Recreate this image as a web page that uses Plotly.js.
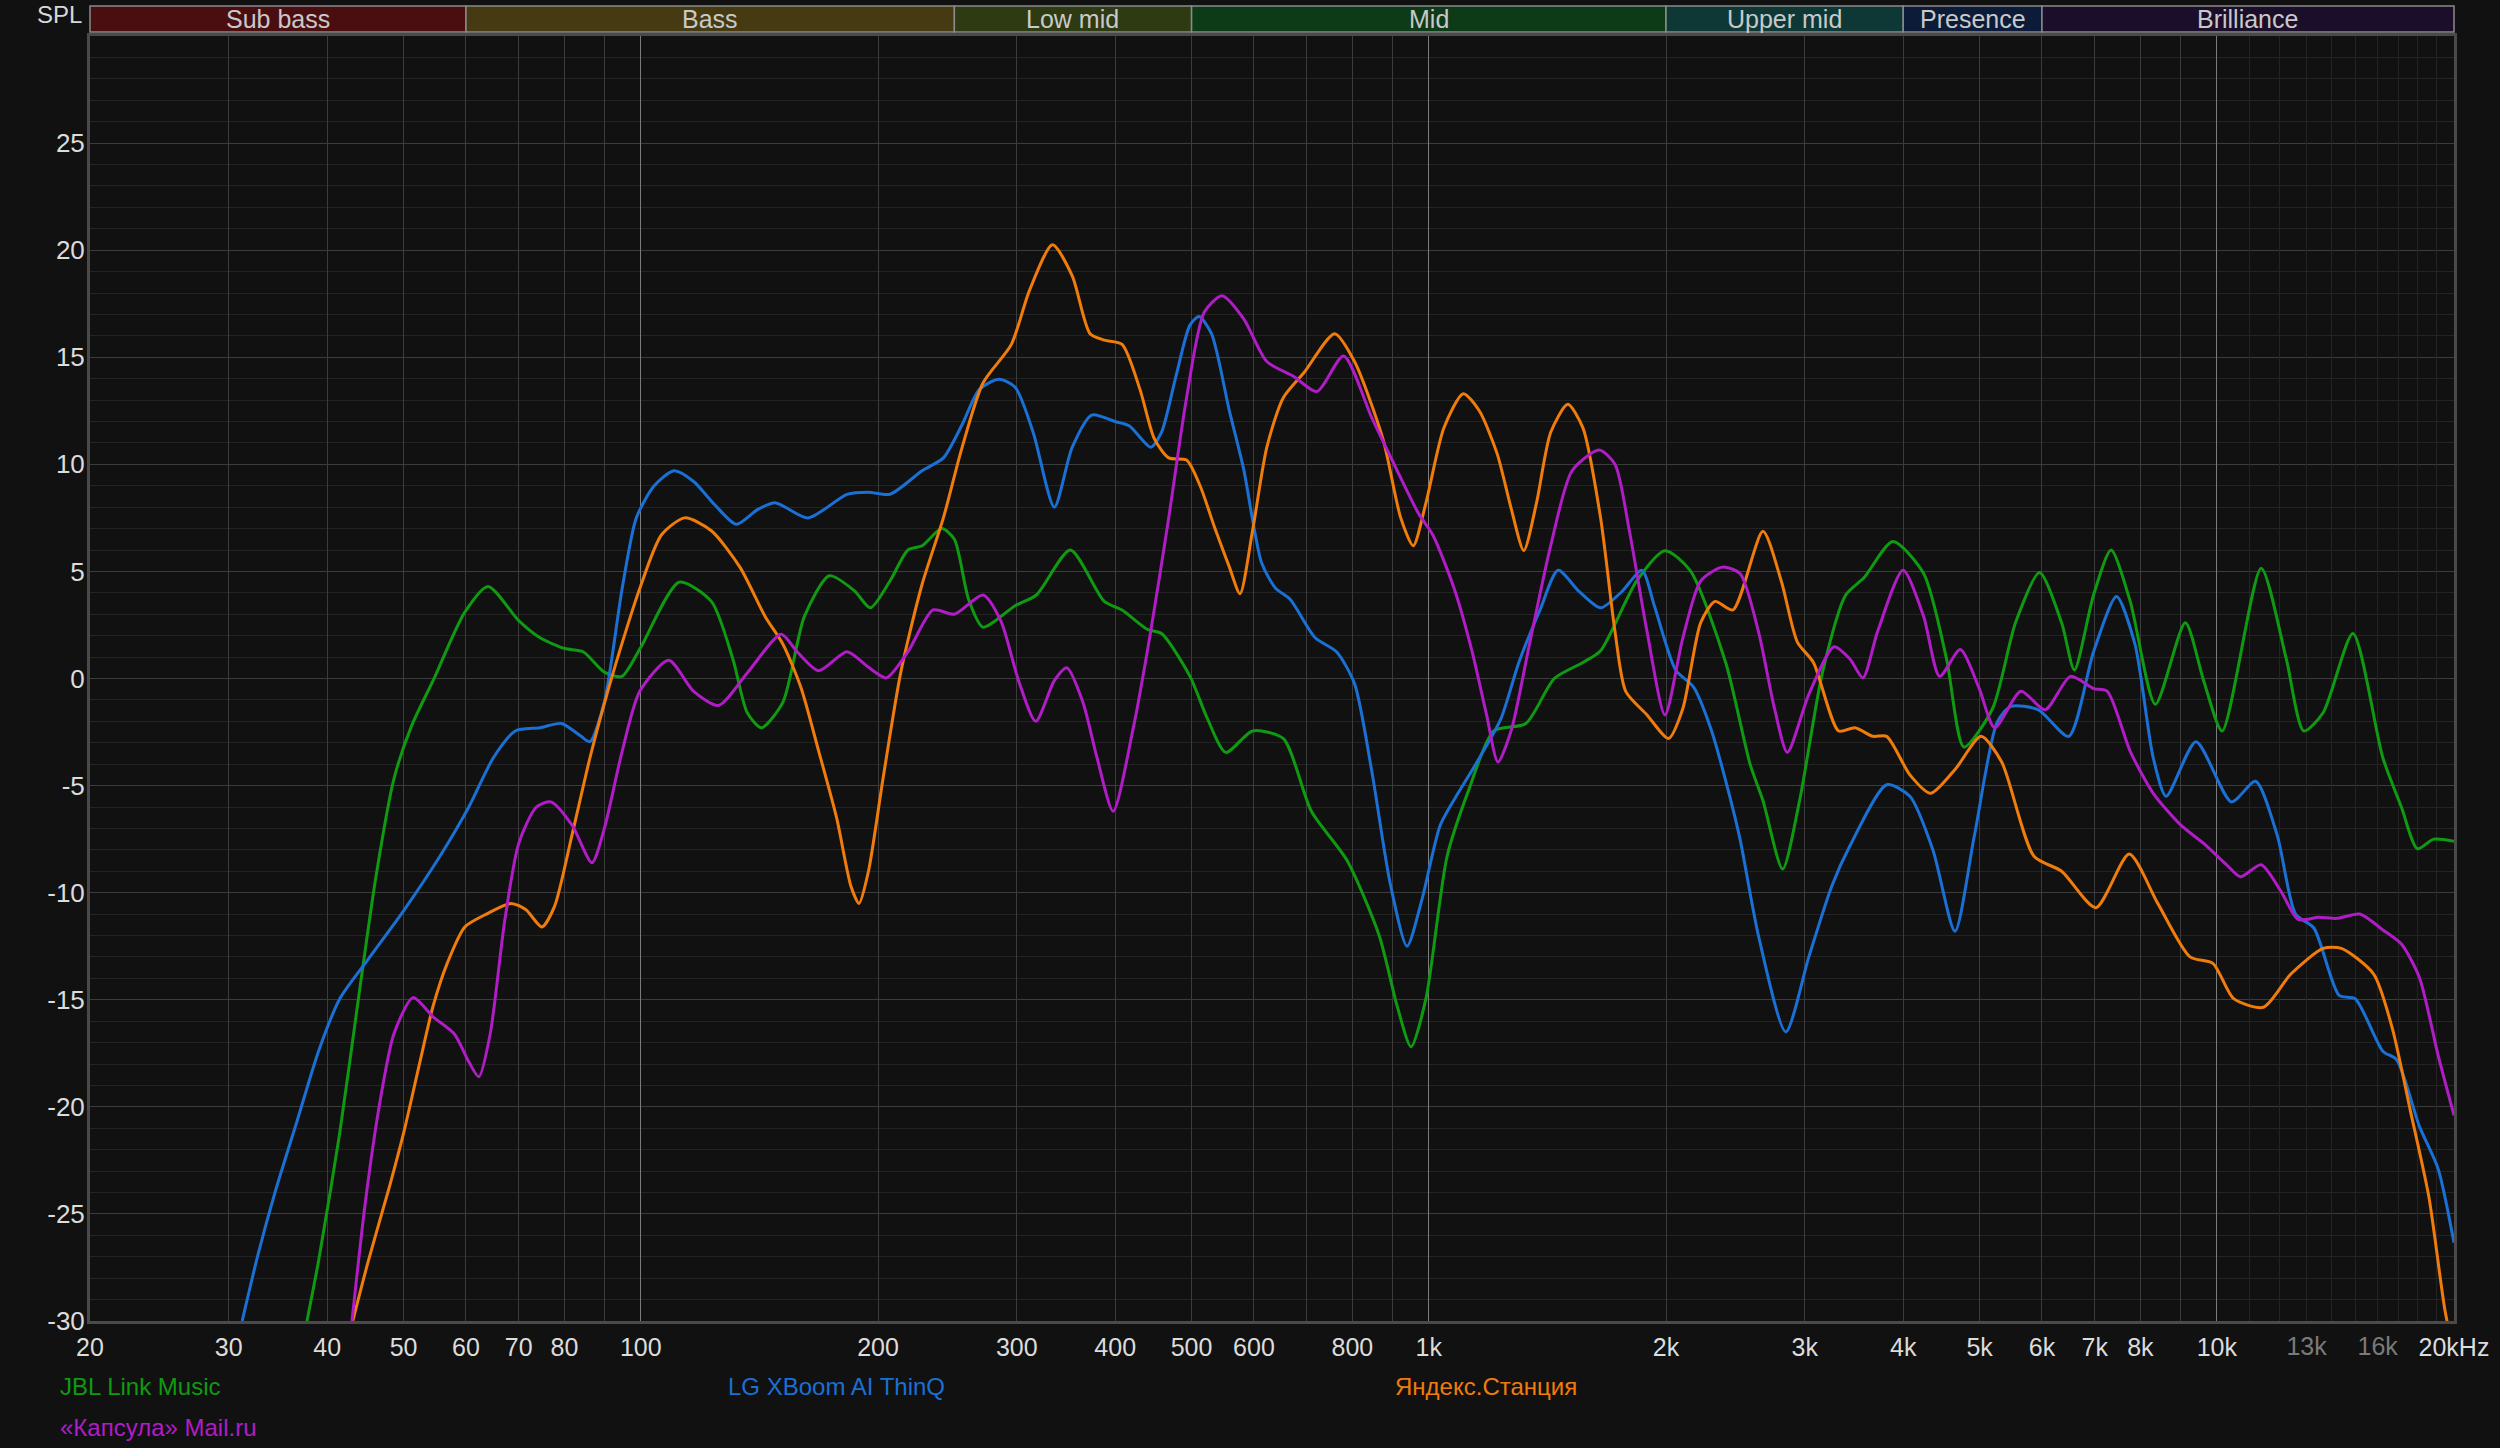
<!DOCTYPE html>
<html>
<head>
<meta charset="utf-8">
<script src="https://cdn.plot.ly/plotly-3.0.1.min.js"></script>
<style>
html,body{margin:0;padding:0;background:#111111;}
#chart{width:2500px;height:1448px;}
</style>
</head>
<body>
<div id="chart"></div>
<script>
// ---- Series data (frequency in Hz, level in dB) ----
const jblFreq = [37.7,39.0,41.5,43.8,46.1,48.6,51.2,54.5,59.8,64.0,70.0,74.5,80.1,84.5,89.9,94.6,99.8,111.9,122.9,130.9,136.5,142.3,151.5,161.3,173.5,186.6,195.6,207.1,218.3,227.5,241,250,260.6,271.8,298.6,317.7,350.8,387.4,408.1,439.2,458,497.7,524,552.5,597.5,653.4,709.6,787.6,865,911.8,949.5,991.7,1055,1124,1209,1328,1443,1569,1652,1835,1994,2146,2381,2557,2655,2812,2955,3160,3381,3566,3881,4246,4541,4777,5194,5553,5957,6355,6596,6976,7342,7765,8358,9121,9623,10158,11383,12254,12893,13643,14885,16245,17150,17972,18843,20000];
const jblDb   = [-30,-27.2,-21.2,-15.0,-9.3,-4.7,-2.2,-0.1,3.1,4.3,2.7,1.9,1.4,1.25,0.3,0.1,1.4,4.5,3.6,0.9,-1.6,-2.3,-1.1,2.9,4.8,4.1,3.3,4.55,6.0,6.2,7.0,6.5,3.7,2.4,3.4,3.9,6.0,3.6,3.2,2.3,2.1,0.1,-1.9,-3.45,-2.45,-2.8,-6.2,-8.5,-12.0,-15.3,-17.2,-14.95,-8.3,-5.2,-2.45,-2.1,0,0.75,1.3,4.55,5.97,5.05,0.75,-4.0,-5.7,-8.9,-5.7,0.3,3.9,4.7,6.4,4.9,0.9,-3.2,-1.4,2.6,4.95,2.6,0.4,3.9,6.0,3.6,-1.2,2.6,-0.1,-2.45,5.15,0.9,-2.45,-1.6,2.1,-3.7,-6.0,-7.95,-7.5,-7.6];

const lgFreq = [31.2,32.7,34.4,36.6,39.0,41.5,45.1,50.1,55.6,60.5,65.0,69.3,74.5,79.3,84.0,86.2,89.9,94.7,98.7,104,110.2,116.7,124.2,132.2,140.8,148.3,163,182.7,194.5,207.1,227.5,242.1,255.3,269,284.8,298.6,314.7,334.8,352.8,373.5,399.7,416.7,443.7,458,477.6,497.6,511,530,558.4,582,613.5,639.6,666.8,717.5,763.6,804.9,847.2,892.6,938.4,980.5,1034,1089,1147,1234,1301,1384,1459,1552,1652,1758,1864,1933,2057,2168,2283,2404,2483,2620,2838,3036,3246,3425,3811,4079,4362,4653,4924,5262,5479,5938,6487,6976,7460,7873,8305,8624,9411,10436,11200,11937,12589,13280,14300,14985,16245,16916,18073,19095,20000];
const lgDb   = [-30,-26.85,-23.9,-20.7,-17.4,-14.95,-13.1,-10.8,-8.3,-6.0,-3.7,-2.45,-2.3,-2.1,-2.7,-2.95,-1.1,4.2,7.5,9.0,9.7,9.2,8.1,7.2,7.9,8.2,7.5,8.6,8.7,8.6,9.7,10.3,11.8,13.5,13.97,13.6,11.5,8.0,10.8,12.3,12.0,11.8,10.8,11.5,14.1,16.5,16.9,16.1,12.5,9.8,5.4,4.2,3.7,1.9,1.25,-0.24,-4.4,-9.5,-12.5,-10.3,-6.85,-5.36,-4.0,-1.9,0.75,3.2,5.05,4.06,3.3,4.06,5.05,3.4,0.4,-0.4,-2.4,-5.36,-7.5,-12.0,-16.5,-13.0,-9.7,-7.8,-4.96,-5.5,-8.0,-11.8,-7.35,-2.05,-1.3,-1.46,-2.7,1.25,3.83,1.6,-3.7,-5.5,-2.95,-5.76,-4.8,-7.35,-11.0,-11.65,-14.8,-14.95,-17.4,-17.8,-20.9,-22.9,-26.35];

const yandexFreq = [43.1,45.1,48.0,50.1,52.3,54.5,56.8,59.8,63.7,68.5,71.5,74.9,77.7,81.8,86.2,90.8,95.7,99.7,106.2,113.7,122.9,133.6,143.8,151.5,159.6,168.2,177.2,184.8,189.2,194.5,202.9,213.8,227.5,242.1,255.3,271.8,295.3,311.2,333,352.8,371.6,387.4,408.1,430,448.4,467.7,492.7,512.6,535.4,558.4,576,597.5,623,653.4,695,759.5,804.9,874.4,921.3,955.6,991.7,1045,1106,1159,1221,1273,1320,1370,1428,1501,1569,1652,1723,1778,1892,2015,2101,2213,2308,2432,2655,2801,2936,3077,3312,3473,3662,3811,4079,4332,4665,5021,5334,5862,6355,7022,7742,8416,9247,9887,10505,11460,12416,13643,14392,15815,16692,17610,18583,19478,20000];
const yandexDb   = [-30,-27.2,-23.7,-21.1,-18.1,-15.3,-13.3,-11.6,-11.0,-10.5,-10.8,-11.6,-10.65,-7.3,-3.7,-0.6,2.2,4.2,6.7,7.5,6.9,5.2,2.9,1.6,-0.4,-3.4,-6.5,-9.7,-10.5,-9.0,-4.7,0.3,4.4,7.5,10.7,13.8,15.6,18.1,20.25,18.8,16.1,15.8,15.6,13.5,11.2,10.3,10.2,9.0,7.0,5.2,3.96,6.9,10.8,13.1,14.3,16.1,14.8,11.2,7.5,6.2,8.2,11.7,13.3,12.5,10.5,7.9,5.97,8.2,11.5,12.8,11.7,7.5,2.2,-0.6,-1.7,-2.8,-1.4,2.6,3.6,3.2,6.87,4.55,1.7,0.75,-2.45,-2.3,-2.7,-2.7,-4.5,-5.36,-4.2,-2.7,-3.9,-8.3,-9.0,-10.7,-8.2,-10.5,-13.0,-13.3,-14.95,-15.35,-13.8,-12.6,-12.6,-13.8,-16.3,-20.2,-24.2,-29.5,-31.5];

const kapsulaFreq = [43.0,44.7,46.6,48.6,51.4,54.5,58.0,60.5,62.3,64.4,67.2,70.0,73.7,76.9,81.8,86.7,89.9,94.7,99.7,108.5,116.7,125.5,136.5,150.7,157.9,168.2,182.7,194.5,204.9,218.3,234.9,250,271.8,286.3,301.6,317.1,334.8,347.3,363.9,379.3,397.6,421.2,443.7,467.7,492.7,518.8,546.8,582,623,674,721,779.6,847.2,912,970.6,1012,1077,1135,1184,1224,1273,1342,1428,1520,1645,1723,1797,1892,1994,2101,2213,2357,2483,2620,2746,2851,3036,3268,3425,3556,3712,3998,4246,4449,4726,4987,5227,5642,6055,6522,6976,7262,7765,8305,9003,9623,10291,10717,11383,12089,12677,13463,14201,15188,16245,17150,18073,19095,20000];
const kapsulaDb   = [-30,-24.5,-19.9,-16.6,-14.9,-15.8,-16.6,-17.9,-18.6,-16.6,-11.3,-7.7,-6.0,-5.76,-6.85,-8.6,-7.0,-3.4,-0.6,0.85,-0.6,-1.26,0.26,2.07,1.25,0.36,1.25,0.52,0.03,1.25,3.2,3.0,3.9,2.7,-0.1,-2.0,-0.1,0.5,-1.1,-3.7,-6.2,-2.4,2.2,7.5,13.1,17.1,17.87,16.8,14.8,14.1,13.4,15.06,12.15,9.7,7.7,6.7,4.2,1.25,-1.7,-3.9,-2.4,1.6,6.2,9.7,10.67,10.0,6.9,2.2,-1.7,1.9,4.55,5.2,4.9,2.2,-1.4,-3.45,-0.74,1.48,0.9,0.03,2.2,5.05,2.9,0.1,1.35,-0.4,-2.3,-0.6,-1.46,0.1,-0.47,-0.6,-3.4,-5.36,-6.85,-7.7,-8.7,-9.26,-8.7,-10.0,-11.25,-11.15,-11.2,-11.0,-11.74,-12.4,-13.95,-17.6,-20.4];

const seriesNames  = ['JBL Link Music', 'LG XBoom AI ThinQ', 'Яндекс.Станция', '«Капсула» Mail.ru'];
const seriesColors = ['#0f9a12', '#1a70d4', '#f07c0c', '#b01cc6'];

// ---- Frequency bands ----
const bandEdges  = [20, 60, 250, 500, 2000, 4000, 6000, 20000];
const bandNames  = ['Sub bass', 'Bass', 'Low mid', 'Mid', 'Upper mid', 'Presence', 'Brilliance'];
const bandColors = ['#4b0e10', '#463a12', '#2d3a12', '#0d3b18', '#0d3836', '#0c1b38', '#1b0e2a'];

// ---- Axis ticks ----
const xTickVals = [20,30,40,50,60,70,80,100,200,300,400,500,600,800,1000,2000,3000,4000,5000,6000,7000,8000,10000,20000];
const xTickText = ['20','30','40','50','60','70','80','100','200','300','400','500','600','800','1k','2k','3k','4k','5k','6k','7k','8k','10k','20kHz'];
const xDimTickVals = [13000, 16000];
const xDimTickText = ['13k', '16k'];
const xGridVals = [30,40,50,60,70,80,90,200,300,400,500,600,700,800,900,2000,3000,4000,5000,6000,7000,8000,9000];
const xDecadeGridVals = [100, 1000, 10000];
const xFineGridVals = [11000,12000,13000,14000,15000,16000,17000,18000,19000];
const yTickVals = [-30,-25,-20,-15,-10,-5,0,5,10,15,20,25];
const yTickText = ['-30','-25','-20','-15','-10','-5','0','5','10','15','20','25'];
const yRange = [-30, 30];
const fRange = [20, 20000];

// ---- Build ----
const L = Math.log10;
const W = 2500, H = 1448;
const M = {l: 90, r: 46, t: 36, b: 127};
const plotW = W - M.l - M.r, plotH = H - M.t - M.b;
const xr = [L(fRange[0]), L(fRange[1])];
const toPaperX = f => (L(f) - xr[0]) / (xr[1] - xr[0]);
const FONT = 'Liberation Sans, Arial, sans-serif';

const freqs = [jblFreq, lgFreq, yandexFreq, kapsulaFreq];
const dbs = [jblDb, lgDb, yandexDb, kapsulaDb];
const traces = [];
// empty helper traces so that the overlaid grid / label axes get created
['x2', 'x3', 'x4', 'x5'].forEach(ax => traces.push({
  type: 'scatter', mode: 'lines', x: [null], y: [null], xaxis: ax, yaxis: 'y',
  hoverinfo: 'skip', showlegend: false
}));
freqs.forEach((f, i) => traces.push({
  type: 'scatter', mode: 'lines', x: f, y: dbs[i], name: seriesNames[i],
  line: {color: seriesColors[i], width: 3, shape: 'spline', smoothing: 0.7},
  hoverinfo: 'skip', showlegend: false
}));

function gridAxis(vals, color, width) {
  return {
    type: 'log', range: xr, autorange: false, overlaying: 'x', anchor: 'y', side: 'bottom',
    tickmode: 'array', tickvals: vals, showticklabels: false, ticks: '',
    showgrid: true, gridcolor: color, gridwidth: width, showline: false, zeroline: false, fixedrange: true
  };
}

const shapes = [];
const annotations = [];
for (let i = 0; i < bandNames.length; i++) {
  shapes.push({
    type: 'rect', xref: 'paper', yref: 'paper',
    x0: toPaperX(bandEdges[i]), x1: toPaperX(bandEdges[i + 1]),
    y0: 1 + 4 / plotH, y1: 1 + 30 / plotH,
    fillcolor: bandColors[i], line: {color: '#8a8a8a', width: 1.5}, layer: 'above'
  });
  annotations.push({
    xref: 'paper', yref: 'paper',
    x: (toPaperX(bandEdges[i]) + toPaperX(bandEdges[i + 1])) / 2, y: 1 + 17 / plotH,
    text: bandNames[i], showarrow: false, xanchor: 'center', yanchor: 'middle',
    font: {family: FONT, size: 25, color: '#c9c9c9'}
  });
}
annotations.push({
  xref: 'paper', yref: 'paper', x: -6 / plotW, y: 1 + 22 / plotH, text: 'SPL',
  showarrow: false, xanchor: 'right', yanchor: 'middle',
  font: {family: FONT, size: 24, color: '#d8d8d8'}
});
// legend as coloured text
seriesNames.forEach((n, i) => {
  const col = i % 3, row = Math.floor(i / 3);
  annotations.push({
    xref: 'paper', yref: 'paper', x: (58 + col * 667.5 - M.l) / plotW, y: -(65 + row * 41) / plotH,
    text: n, showarrow: false, xanchor: 'left', yanchor: 'middle',
    font: {family: FONT, size: 24, color: seriesColors[i]}
  });
});

const layout = {
  width: W, height: H, margin: M,
  paper_bgcolor: '#111111', plot_bgcolor: '#111111',
  font: {family: FONT, color: '#d8d8d8', size: 24},
  showlegend: false,
  xaxis: {
    type: 'log', range: xr, autorange: false, tickmode: 'array', tickvals: xTickVals, ticktext: xTickText,
    showgrid: false, ticks: '', ticklabelstandoff: 2,
    tickfont: {family: FONT, size: 25, color: '#dcdcdc'},
    showline: true, linecolor: '#4a4a4a', linewidth: 3, mirror: true, zeroline: false, fixedrange: true
  },
  xaxis2: gridAxis(xGridVals, '#3c3c3c', 1),
  xaxis3: gridAxis(xDecadeGridVals, '#7c7c7c', 1),
  xaxis4: gridAxis(xFineGridVals, '#242424', 1),
  xaxis5: Object.assign(gridAxis(xDimTickVals, '#000', 0), {
    showgrid: false, showticklabels: true, ticktext: xDimTickText, ticklabelstandoff: 8,
    tickfont: {family: FONT, size: 25, color: '#7a7a7a'}
  }),
  yaxis: {
    range: yRange, autorange: false, tickmode: 'array', tickvals: yTickVals, ticktext: yTickText,
    showgrid: true, gridcolor: '#3c3c3c', gridwidth: 1,
    minor: {tickmode: 'linear', tick0: 0, dtick: 1, showgrid: true, gridcolor: '#232323', gridwidth: 1, ticks: ''},
    ticks: '', ticklabelstandoff: -3,
    tickfont: {family: FONT, size: 26, color: '#dcdcdc'},
    showline: true, linecolor: '#4a4a4a', linewidth: 3, mirror: true, zeroline: false, fixedrange: true
  },
  shapes: shapes,
  annotations: annotations
};

Plotly.newPlot('chart', traces, layout, {displayModeBar: false, staticPlot: true});
</script>
</body>
</html>
